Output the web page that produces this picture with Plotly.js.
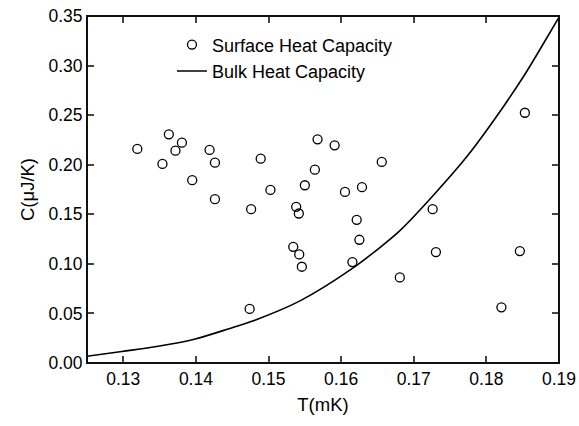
<!DOCTYPE html>
<html>
<head>
<meta charset="utf-8">
<script src="https://cdn.plot.ly/plotly-3.0.1.min.js"></script>
<style>html,body{margin:0;padding:0;background:#fff;}#chart{width:579px;height:426px;}</style>
</head>
<body>
<div id="chart"></div>
<script>
// Surface heat capacity (scatter)
var surfaceT = [0.13193,0.13627,0.13807,0.13718,0.14188,0.14262,0.13539,0.13949,0.14262,0.14760,
  0.14740,0.14892,0.15026,0.15340,0.15381,0.15417,0.15423,0.15459,0.15500,0.15638,
  0.15675,0.15910,0.16053,0.16155,0.16214,0.16251,0.16287,0.16559,0.16808,0.17260,
  0.17305,0.18207,0.18461,0.18530];
var surfaceC = [0.2159,0.2307,0.2222,0.2142,0.2149,0.2021,0.2008,0.1844,0.1652,0.1552,
  0.0545,0.2061,0.1746,0.1172,0.1575,0.1508,0.1095,0.0971,0.1793,0.1950,
  0.2256,0.2196,0.1726,0.1018,0.1444,0.1243,0.1773,0.2028,0.0863,0.1552,
  0.1119,0.0562,0.1129,0.2524];
// Bulk heat capacity (curve)
var bulkT = [0.1250,0.1298,0.1348,0.1399,0.1449,0.1477,0.1544,0.1613,0.1655,0.1682,0.1728,0.1774,0.1820,0.1852,0.1876,0.1901];
var bulkC = [0.0068,0.0116,0.0169,0.0243,0.0354,0.0420,0.0629,0.0941,0.1175,0.1343,0.1700,0.2090,0.2550,0.2900,0.3190,0.3500];
// Axis tick settings
var xTickStart = 0.13, xTickStep = 0.01, xMinorStep = 0.005;
var yTickStart = 0.00, yTickStep = 0.05, yMinorStep = 0.025;
var xRange = [0.125, 0.19], yRange = [0, 0.35];

var font = 'Arial, "Liberation Sans", sans-serif';
var tickInk = '#444';
var traces = [
  {x: surfaceT, y: surfaceC, mode: 'markers', type: 'scatter', name: 'Surface Heat Capacity',
   marker: {symbol: 'circle-open', size: 9, color: '#000', line: {width: 1.3, color: '#000'}}},
  {x: bulkT, y: bulkC, mode: 'lines', type: 'scatter', name: 'Bulk Heat Capacity',
   line: {color: '#000', width: 1.6, shape: 'spline', smoothing: 1}}
];
function axis(extra) {
  var a = {
    showline: true, linecolor: tickInk, mirror: 'ticks',
    ticks: 'inside', ticklen: 7, tickwidth: 2, tickcolor: tickInk,
    showgrid: false, zeroline: false, tickmode: 'linear',
    tickfont: {family: font, size: 17.5, color: '#000'}
  };
  for (var k in extra) a[k] = extra[k];
  return a;
}
var layout = {
  width: 579, height: 426,
  margin: {l: 87, r: 20, t: 16, b: 63},
  paper_bgcolor: '#fff', plot_bgcolor: '#fff',
  showlegend: true,
  legend: {x: 0.18, y: 0.97, xanchor: 'left', yanchor: 'top', bgcolor: 'rgba(0,0,0,0)',
           font: {family: font, size: 18, color: '#000'}, tracegroupgap: 0, itemwidth: 30},
  shapes: [{type: 'rect', xref: 'paper', yref: 'paper', x0: 0, x1: 1, y0: 0, y1: 1,
            line: {color: '#111111', width: 2}, fillcolor: 'rgba(0,0,0,0)', layer: 'above'}],
  xaxis: axis({
    range: xRange, tick0: xTickStart, dtick: xTickStep, tickformat: '.2f',
    title: {text: 'T(mK)', font: {family: font, size: 18.5, color: '#000'}, standoff: 10}
  }),
  yaxis: axis({
    range: yRange, tick0: yTickStart, dtick: yTickStep, tickformat: '.2f',
    title: {text: 'C(μJ/K)', font: {family: font, size: 18.5, color: '#000'}, standoff: 8}
  }),
  xaxis2: axis({
    overlaying: 'x', anchor: 'y', side: 'bottom', range: xRange, tick0: xRange[0], dtick: xMinorStep,
    ticklen: 4, showticklabels: false
  }),
  yaxis2: axis({
    overlaying: 'y', anchor: 'x', side: 'left', range: yRange, tick0: yRange[0], dtick: yMinorStep,
    ticklen: 4, showticklabels: false
  })
};
Plotly.newPlot('chart', traces, layout, {staticPlot: true});
</script>
</body>
</html>
